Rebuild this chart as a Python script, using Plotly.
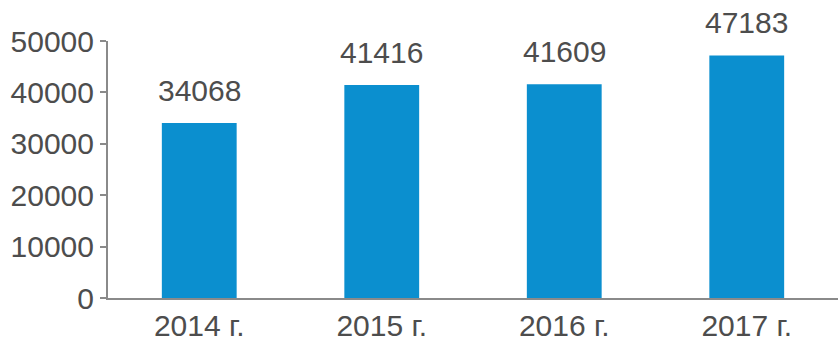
import plotly.graph_objects as go

categories = ["2014 г.", "2015 г.", "2016 г.", "2017 г."]
values = [34068, 41416, 41609, 47183]
y_ticks = [0, 10000, 20000, 30000, 40000, 50000]

FONT = "Liberation Sans"
TXT = "#4d4d4d"
SIZE = 30

fig = go.Figure()
fig.add_trace(go.Bar(
    x=categories, y=values, width=0.41,
    marker=dict(color="#0b8fcf", line=dict(width=0)),
))
for c, v in zip(categories, values):
    fig.add_annotation(
        x=c, y=v, text=str(v), showarrow=False,
        yanchor="bottom", yshift=14,
        font=dict(family=FONT, size=SIZE, color=TXT),
    )
fig.update_layout(
    width=838, height=346,
    margin=dict(l=108, r=0, t=41, b=48),
    paper_bgcolor="white", plot_bgcolor="white",
    showlegend=False, bargap=0.59,
)
fig.update_xaxes(
    showgrid=False, showline=True, linecolor="#8a8a8a", linewidth=2,
    ticks="", tickfont=dict(family=FONT, size=SIZE, color=TXT),
    ticklabelstandoff=0, range=[-0.5, 3.5],
)
fig.update_yaxes(
    range=[0, 50000], tickvals=y_ticks, ticktext=[str(t) for t in y_ticks],
    showgrid=False, zeroline=False, showline=True, linecolor="#8a8a8a", linewidth=2,
    ticks="outside", ticklen=6, tickcolor="#8a8a8a", tickwidth=2,
    tickfont=dict(family=FONT, size=SIZE, color=TXT),
)
fig.write_html("out.html")
